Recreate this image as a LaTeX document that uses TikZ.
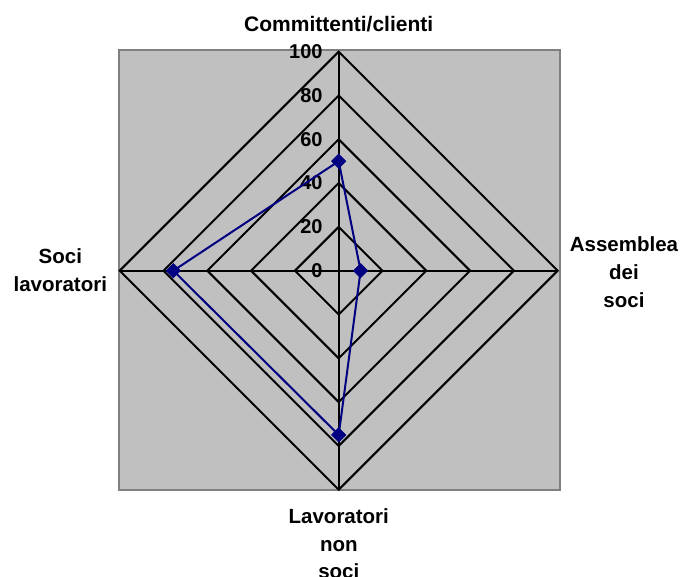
\documentclass[tikz,border=0pt]{standalone}
\usepackage{fontspec}
\setmainfont{Liberation Sans}
\usetikzlibrary{shapes.geometric,calc}
\definecolor{plotgray}{HTML}{C0C0C0}
\definecolor{framegray}{HTML}{808080}
\definecolor{seriesblue}{HTML}{000080}
\begin{document}
\begin{tikzpicture}[x=1pt,y=-1pt,
  lbl/.style={font=\bfseries\fontsize{20.5}{27.8}\selectfont, inner sep=0pt, anchor=base},
  ticklbl/.style={font=\bfseries\fontsize{20}{24}\selectfont, inner sep=0pt, anchor=east},
  ring/.style={draw=black, line width=2pt, line join=miter},
  axisline/.style={draw=black, line width=2pt},
  series/.style={draw=seriesblue, line width=2pt, line join=round},
  marker/.style={shape=diamond, fill=seriesblue, draw=none, minimum width=15pt, minimum height=15pt, inner sep=0pt}]
\useasboundingbox (0,0) rectangle (681,577);
% plot area
\draw[fill=plotgray, draw=framegray, line width=2pt] (118.5,50) rectangle (559.5,490.3);
\coordinate (c) at (338.7,270.7);
\def\R{219}
% rings
\foreach \k in {1,...,5}{
  \draw[ring] ($(c)+(0,-\k*\R/5)$) -- ($(c)+(\k*\R/5,0)$) -- ($(c)+(0,\k*\R/5)$) -- ($(c)+(-\k*\R/5,0)$) -- cycle;
}
% axes
\coordinate (vt) at ($(c)+(0,-\R)$);
\coordinate (vr) at ($(c)+(\R,0)$);
\coordinate (vb) at ($(c)+(0,\R)$);
\coordinate (vl) at ($(c)+(-\R,0)$);
\draw[axisline] (c) -- (vt);
\draw[axisline] (c) -- (vr);
\draw[axisline] (c) -- (vb);
\draw[axisline] (c) -- (vl);
% tick labels
\foreach \v [count=\i from 0] in {0,20,40,60,80,100}{
  \node[ticklbl] (t\i) at ($(322.7,270.7)+(0,-\i*\R/5)$) {\v};
}
% series
\node[marker] (p1) at ($(c)+(0,-0.50*\R)$) {};
\node[marker] (p2) at ($(c)+(0.10*\R,0)$) {};
\node[marker] (p3) at ($(c)+(0,0.75*\R)$) {};
\node[marker] (p4) at ($(c)+(-0.755*\R,0)$) {};
\draw[series] (p1.center) -- (p2.center) -- (p3.center) -- (p4.center) -- cycle;
\node[marker] at (p1.center) {};
\node[marker] at (p2.center) {};
\node[marker] at (p3.center) {};
\node[marker] at (p4.center) {};
% category labels
\node[lbl, font=\bfseries\fontsize{21}{27.8}\selectfont] (top) at (338.7,31.7) {Committenti/clienti};
\node[lbl] (r1) at (624,251.7) {Assemblea};
\node[lbl] (r2) at (624,279.5) {dei};
\node[lbl] (r3) at (624,307.3) {soci};
\node[lbl] (l1) at (60.3,263.3) {Soci};
\node[lbl] (l2) at (60.3,291.1) {lavoratori};
\node[lbl] (b1) at (338.8,523.3) {Lavoratori};
\node[lbl] (b2) at (338.8,551.1) {non};
\node[lbl] (b3) at (338.8,578.9) {soci};
\end{tikzpicture}
\end{document}
